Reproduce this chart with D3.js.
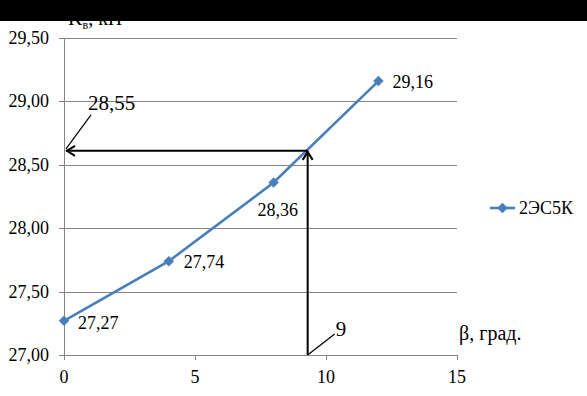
<!DOCTYPE html>
<html lang="ru">
  <head>
    <meta charset="utf-8" />
    <script src="https://cdn.jsdelivr.net/npm/d3@7/dist/d3.min.js"></script>
    <style>
      body { margin: 0; background: #fff; }
    </style>
  </head>
  <body>
    <div id="container"></div>
    <script>
      // data
      const angles = [0, 4, 8, 12];
      const forces = [27.27, 27.74, 28.36, 29.16];
      const seriesName = "2ЭС5К";
      const yTicks = [27.0, 27.5, 28.0, 28.5, 29.0, 29.5];
      const xTicks = [0, 5, 10, 15];
      // read-off point drawn with arrows
      const readAngle = 9.3;
      const readForce = 28.61;
      const readAngleLabel = "9";
      const readForceLabel = "28,55";

      const width = 587, height = 396;
      const margin = { left: 64, right: 130, top: 38, bottom: 41 };
      const fmt = (d) => d.toFixed(2).replace(".", ",");
      const blue = "#4a7ebb";
      const grey = "#868686";
      const FONT = "'Liberation Serif'";

      const svg = d3.select("#container").append("svg")
        .attr("width", width).attr("height", height);

      const x = d3.scaleLinear().domain([0, 15]).range([margin.left, width - margin.right]);
      const y = d3.scaleLinear().domain([27, 29.5]).range([height - margin.bottom, margin.top]);

      // gridlines
      svg.append("g")
        .selectAll("line")
        .data(yTicks)
        .join("line")
        .attr("x1", margin.left - 5)
        .attr("x2", x(15))
        .attr("y1", (d) => Math.round(y(d)) + 0.5)
        .attr("y2", (d) => Math.round(y(d)) + 0.5)
        .attr("stroke", grey);

      // y axis line
      svg.append("line")
        .attr("x1", margin.left + 0.5).attr("x2", margin.left + 0.5)
        .attr("y1", y(29.5)).attr("y2", y(27))
        .attr("stroke", grey);

      // x ticks
      svg.append("g")
        .selectAll("line")
        .data(xTicks)
        .join("line")
        .attr("x1", (d) => Math.round(x(d)) + 0.5)
        .attr("x2", (d) => Math.round(x(d)) + 0.5)
        .attr("y1", y(27))
        .attr("y2", y(27) + 5)
        .attr("stroke", grey);

      // tick labels
      svg.append("g")
        .selectAll("text")
        .data(yTicks)
        .join("text")
        .attr("x", margin.left - 15)
        .attr("y", (d) => y(d) + 6)
        .attr("text-anchor", "end")
        .attr("font-size", 18)
        .text(fmt);

      svg.append("g")
        .selectAll("text")
        .data(xTicks)
        .join("text")
        .attr("x", (d) => x(d))
        .attr("y", y(27) + 28)
        .attr("text-anchor", "middle")
        .attr("font-size", 18)
        .text((d) => d);

      // series line
      const pts = angles.map((a, i) => [a, forces[i]]);
      svg.append("path")
        .datum(pts)
        .attr("fill", "none")
        .attr("stroke", blue)
        .attr("stroke-width", 2.6)
        .attr("d", d3.line().x((d) => x(d[0])).y((d) => y(d[1])));

      const diamond = d3.symbol().type(d3.symbolDiamond2).size(70);
      svg.append("g")
        .selectAll("path")
        .data(pts)
        .join("path")
        .attr("transform", (d) => `translate(${x(d[0])},${y(d[1])})`)
        .attr("d", diamond)
        .attr("fill", blue);

      // data labels
      const labelOffsets = [[14, 8], [15, 7], [-16, 33], [14, 7]];
      svg.append("g")
        .selectAll("text")
        .data(pts)
        .join("text")
        .attr("x", (d, i) => x(d[0]) + labelOffsets[i][0])
        .attr("y", (d, i) => y(d[1]) + labelOffsets[i][1])
        .attr("font-size", 18)
        .text((d) => fmt(d[1]));

      // arrows
      const ax = x(readAngle), ay = y(readForce);
      const arrow = svg.append("g").attr("stroke", "#000").attr("fill", "none").attr("stroke-width", 2);
      arrow.append("line").attr("x1", ax).attr("x2", ax).attr("y1", y(27)).attr("y2", ay);
      arrow.append("path").attr("d", `M${ax - 5},${ay + 9}L${ax},${ay + 1}L${ax + 5},${ay + 9}`);
      arrow.append("line").attr("x1", ax).attr("x2", x(0) + 2).attr("y1", ay).attr("y2", ay);
      arrow.append("path").attr("d", `M${x(0) + 11},${ay - 5}L${x(0) + 3},${ay}L${x(0) + 11},${ay + 5}`);

      // leader lines + annotation labels
      const lead = svg.append("g").attr("stroke", "#000").attr("stroke-width", 1.2);
      lead.append("line").attr("x1", x(0) + 2).attr("y1", ay - 2).attr("x2", x(0) + 27).attr("y2", ay - 36);
      lead.append("line").attr("x1", ax).attr("y1", y(27)).attr("x2", ax + 27).attr("y2", y(27) - 21);
      svg.append("text").attr("x", x(0) + 24).attr("y", ay - 41).attr("font-size", 21).text(readForceLabel);
      svg.append("text").attr("x", ax + 28).attr("y", y(27) - 19).attr("font-size", 21).text(readAngleLabel);

      // axis titles
      svg.append("text").attr("x", 459).attr("y", y(27) - 15).attr("font-size", 20).text("β, град.");
      const kt = svg.append("text").attr("x", 68).attr("y", 25).attr("font-size", 20);
      kt.append("tspan").text("K");
      kt.append("tspan").attr("font-size", 12).attr("dy", 4).text("в");
      kt.append("tspan").attr("dy", -4).text(", кН");

      // legend
      const lg = svg.append("g").attr("transform", "translate(490,208)");
      lg.append("line").attr("x1", 0).attr("x2", 25).attr("stroke", blue).attr("stroke-width", 2.6);
      lg.append("path").attr("transform", "translate(12.5,0)").attr("d", diamond).attr("fill", blue);
      lg.append("text").attr("x", 29).attr("y", 6).attr("font-size", 18).text(seriesName);

      // every label in the serif face
      svg.selectAll("text").style("font-family", FONT).style("fill", "#000");

      // black band across the top
      svg.append("rect").attr("x", 0).attr("y", 0).attr("width", width).attr("height", 21).attr("fill", "#000");
    </script>
  </body>
</html>
